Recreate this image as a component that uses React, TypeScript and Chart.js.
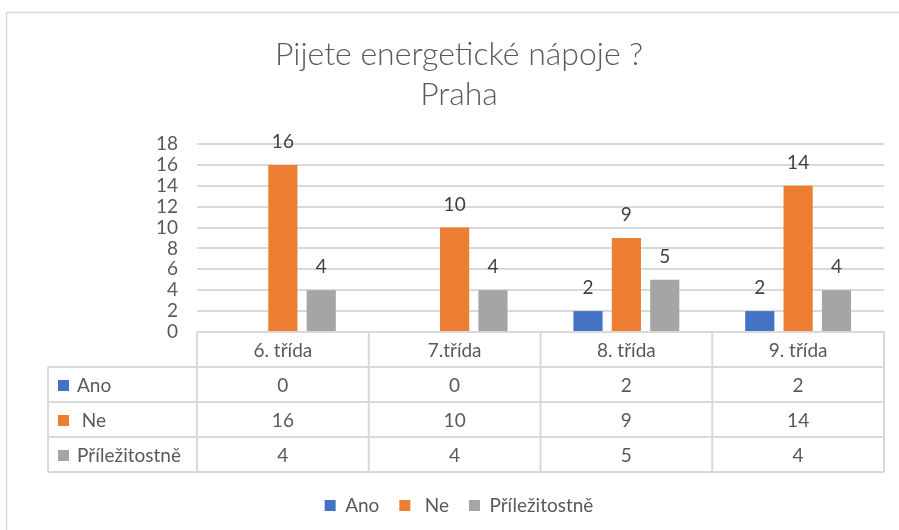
import React, { useEffect, useRef } from "react";
import { Chart, registerables } from "chart.js";

Chart.register(...registerables);

const categories = ["6. třída", "7.třída", "8. třída", "9. třída"];
const seriesNames = ["Ano", " Ne", "Příležitostně"];
const ano = [0, 0, 2, 2];
const ne = [16, 10, 9, 14];
const prilezitostne = [4, 4, 5, 4];
const seriesColors = ["#4472C4", "#ED7D31", "#A5A5A5"];
const titleLines = ["Pijete energetické nápoje ?", "Praha"];
const yMax = 18;
const yStep = 2;

const FONT = "Lato";
const FS = 19;
const TEXT = "#595959";
const LINE = "#d9d9d9";

const frame = {
  id: "frame",
  beforeDraw(chart: any) {
    const ctx = chart.ctx;
    ctx.save();
    ctx.fillStyle = "#ffffff";
    ctx.fillRect(0, 0, chart.width, chart.height);
    ctx.strokeStyle = LINE;
    ctx.lineWidth = 1.5;
    ctx.strokeRect(6.5, 12.5, chart.width + 20, chart.height + 20);
    ctx.restore();
  },
};

const dataLabels = {
  id: "dataLabels",
  afterDatasetsDraw(chart: any) {
    const ctx = chart.ctx;
    ctx.save();
    ctx.font = `${FS}px ${FONT}`;
    ctx.fillStyle = "#404040";
    ctx.textAlign = "center";
    ctx.textBaseline = "alphabetic";
    chart.data.datasets.forEach((ds: any, di: number) => {
      const meta = chart.getDatasetMeta(di);
      meta.data.forEach((bar: any, i: number) => {
        const v = ds.data[i];
        if (v > 0) ctx.fillText(String(v), bar.x, bar.y - 17);
      });
    });
    ctx.restore();
  },
};

const dataTable = {
  id: "dataTable",
  afterDraw(chart: any) {
    const ctx = chart.ctx;
    const area = chart.chartArea;
    const xs = chart.scales.x;
    const n = categories.length;
    const cw = (area.right - area.left) / n;
    const top = area.bottom;
    const headerH = 35;
    const rowH = 35;
    const leftX = 48;
    ctx.save();
    ctx.strokeStyle = LINE;
    ctx.lineWidth = 2;
    ctx.beginPath();
    ctx.moveTo(area.left, top);
    ctx.lineTo(area.right, top);
    const tableBottom = top + headerH + rowH * seriesNames.length;
    for (let i = 0; i <= n; i++) {
      const x = area.left + cw * i;
      ctx.moveTo(x, top);
      ctx.lineTo(x, tableBottom);
    }
    for (let r = 0; r <= seriesNames.length; r++) {
      const y = top + headerH + rowH * r;
      ctx.moveTo(leftX, y);
      ctx.lineTo(area.right, y);
    }
    ctx.moveTo(leftX, top + headerH);
    ctx.lineTo(leftX, tableBottom);
    ctx.stroke();

    ctx.font = `${FS}px ${FONT}`;
    ctx.fillStyle = TEXT;
    ctx.textBaseline = "middle";
    ctx.textAlign = "center";
    categories.forEach((c, i) => {
      const x = xs.getPixelForValue(i);
      ctx.fillText(c, x, top + headerH / 2 + 1);
    });
    const series = [ano, ne, prilezitostne];
    series.forEach((vals, r) => {
      const yc = top + headerH + rowH * r + rowH / 2 + 1;
      ctx.textAlign = "center";
      vals.forEach((v, i) => {
        ctx.fillText(String(v), xs.getPixelForValue(i), yc);
      });
      ctx.fillStyle = seriesColors[r];
      ctx.fillRect(leftX + 10, yc - 5.5, 11, 11);
      ctx.fillStyle = TEXT;
      ctx.textAlign = "left";
      ctx.fillText(seriesNames[r], leftX + 29, yc);
    });
    ctx.restore();
  },
};

export default function App() {
  const ref = useRef<HTMLCanvasElement | null>(null);
  useEffect(() => {
    if (!ref.current) return;
    const chart = new Chart(ref.current, {
      type: "bar",
      data: {
        labels: categories,
        datasets: [ano, ne, prilezitostne].map((d, i) => ({
          label: seriesNames[i],
          data: d,
          backgroundColor: seriesColors[i],
          categoryPercentage: 0.67,
          barPercentage: 0.76,
        })),
      },
      options: {
        responsive: false,
        animation: false,
        layout: { padding: { top: 0, bottom: 5, left: 34, right: 15 } },
        plugins: {
          title: {
            display: true,
            text: titleLines,
            color: TEXT,
            font: { family: FONT, size: 32, weight: "300", lineHeight: 1.25 },
            padding: { top: 35, bottom: 29 },
          },
          legend: {
            position: "bottom",
            labels: {
              boxWidth: 11,
              boxHeight: 11,
              padding: 20,
              color: TEXT,
              font: { family: FONT, size: FS },
            },
          },
          tooltip: { enabled: false },
        },
        scales: {
          x: {
            grid: { display: false },
            border: { display: false },
            ticks: { display: false },
            afterFit: (s: any) => {
              s.height = 144;
            },
          },
          y: {
            min: 0,
            max: yMax,
            ticks: {
              stepSize: yStep,
              autoSkip: false,
              color: TEXT,
              padding: 19,
              font: { family: FONT, size: FS },
            },
            grid: { color: LINE, lineWidth: 2, drawTicks: false },
            border: { display: false },
            afterFit: (s: any) => {
              s.width = 197 - 34;
            },
          },
        },
      },
      plugins: [frame, dataLabels, dataTable],
    });
    return () => chart.destroy();
  }, []);
  return (
    <canvas
      ref={ref}
      width={899}
      height={530}
      style={{ position: "absolute", left: 0, top: 0 }}
    />
  );
}
